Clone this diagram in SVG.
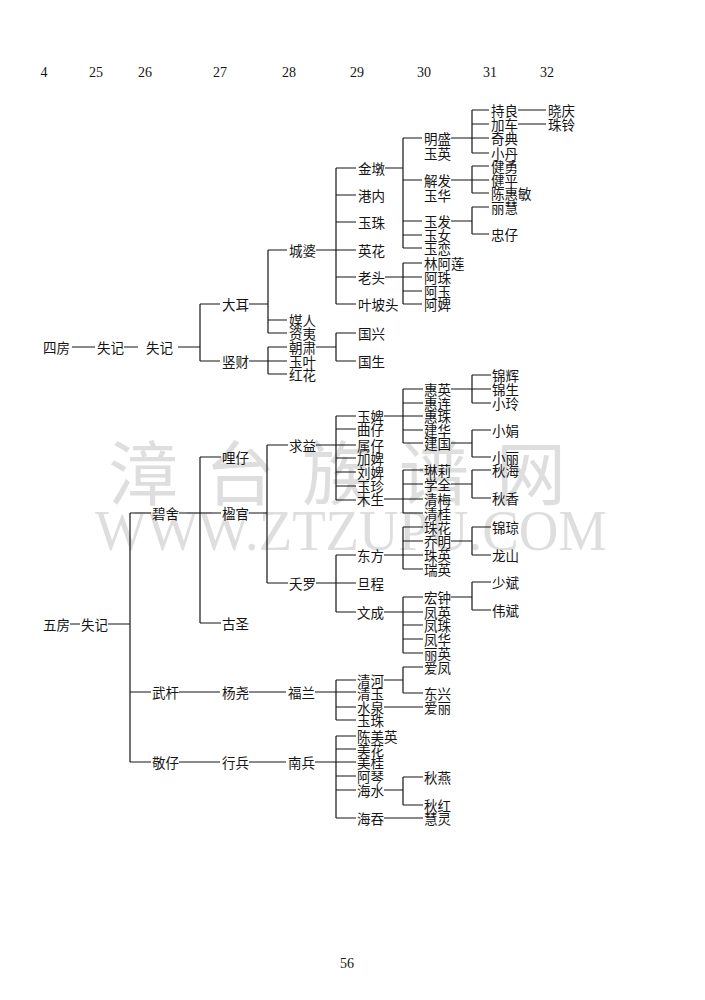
<svg xmlns="http://www.w3.org/2000/svg" width="705" height="1000" viewBox="0 0 705 1000">
<style>
.t{font-family:"Noto Sans CJK SC","Noto Sans CJK TC",sans-serif;font-size:13.5px;fill:#151515;dominant-baseline:central}
.n{font-family:"Liberation Serif",serif;font-size:14px;fill:#151515;text-anchor:middle;dominant-baseline:central}
.c{stroke:#151515;stroke-width:1.2;fill:none}
.w{font-family:"Noto Sans CJK SC",sans-serif;font-size:70px;fill:#d4d4d4;opacity:0.75}
.wu{font-family:"Liberation Serif",serif;font-size:56px;fill:#d4d4d4;opacity:0.75}
</style>
<rect width="705" height="1000" fill="#ffffff"/>
<g id="watermark">
<text class="w" x="108" y="500" letter-spacing="27">漳台族谱网</text>
<text class="wu" x="95" y="550" textLength="512" lengthAdjust="spacingAndGlyphs">WWW.ZTZUPU.COM</text>
</g>
<g id="header">
<text class="n" x="44" y="72">4</text>
<text class="n" x="96" y="72">25</text>
<text class="n" x="145" y="72">26</text>
<text class="n" x="220" y="72">27</text>
<text class="n" x="289" y="72">28</text>
<text class="n" x="357" y="72">29</text>
<text class="n" x="424" y="72">30</text>
<text class="n" x="490" y="72">31</text>
<text class="n" x="547" y="72">32</text>
</g>
<g id="connectors">
<path class="c" d="M72 347H95 M124 347H138 M178 347H200 M200 304V361 M200 304H220 M200 361H220
M249 304H268 M268 250V333 M268 250H287 M268 320H287 M268 333H287
M249 361H287 M268 347V374 M268 347H287 M268 374H287
M316 347H336 M336 333V361 M336 333H356 M336 361H356
M316 250H356 M336 168V304 M336 168H356 M336 195H356 M336 222H356 M336 277H356 M336 304H356
M385 168H403 M403 138V248 M403 138H422 M403 180H422 M403 221H422 M403 235H422 M403 248H422
M451 138H489 M472 110V153 M472 110H489 M472 124H489 M472 153H489
M518 110H546 M518 124H546
M451 180H489 M472 166V193 M472 166H489 M472 193H489
M451 221H472 M472 207V234 M472 207H489 M472 234H489
M385 277H422 M403 263V304 M403 263H422 M403 291H422 M403 304H422"/>
<path class="c" d="M70 624H80 M108 624H130 M130 513V762 M130 513H151 M179 513H221 M200 457V623 M200 457H221 M200 623H221
M249 513H267 M267 445V583 M267 445H288 M267 583H288
M316 445H356 M336 416V500 M336 416H356 M336 429H356 M336 458H356 M336 472H356 M336 486H356 M336 500H356
M384 416H423 M403 389V443 M403 389H423 M403 403H423 M403 430H423 M403 443H423
M451 389H491 M472 375V403 M472 375H491 M472 403H491
M451 443H472 M472 430V457 M472 430H491 M472 457H491
M384 499H423 M403 470V513 M403 470H423 M403 484H423 M403 513H423
M451 484H472 M472 470V498 M472 470H491 M472 498H491
M316 583H356 M336 555V612 M336 555H356 M336 612H356
M384 555H423 M403 527V569 M403 527H423 M403 541H423 M403 569H423
M451 541H472 M472 527V555 M472 527H491 M472 555H491
M384 612H423 M403 597V653 M403 597H423 M403 625H423 M403 639H423 M403 653H423
M451 597H472 M472 582V610 M472 582H491 M472 610H491
M130 692H151 M179 692H220 M249 692H286 M315 692H356 M336 680V720 M336 680H356 M336 707H356 M336 720H356
M384 680H403 M403 667V693 M403 667H423 M403 693H423
M384 707H423
M130 762H151 M179 762H220 M249 762H286 M315 762H356 M336 736V818 M336 736H356 M336 749H356 M336 776H356 M336 790H356 M336 818H356
M384 790H403 M403 777V805 M403 777H423 M403 805H423
M384 818H423"/>
</g>
<g id="n001"><text class="t" x="43" y="347">四房</text></g>
<g id="n002"><text class="t" x="97" y="347">失记</text></g>
<g id="n003"><text class="t" x="146" y="347">失记</text></g>
<g id="n004"><text class="t" x="222" y="304">大耳</text></g>
<g id="n005"><text class="t" x="222" y="361">竖财</text></g>
<g id="n006"><text class="t" x="289" y="250">城婆</text></g>
<g id="n007"><text class="t" x="289" y="320">媒人</text></g>
<g id="n008"><text class="t" x="289" y="333">资夷</text></g>
<g id="n009"><text class="t" x="289" y="347">朝肃</text></g>
<g id="n010"><text class="t" x="289" y="361">玉叶</text></g>
<g id="n011"><text class="t" x="289" y="374">红花</text></g>
<g id="n012"><text class="t" x="358" y="333">国兴</text></g>
<g id="n013"><text class="t" x="358" y="361">国生</text></g>
<g id="n014"><text class="t" x="358" y="168">金墩</text></g>
<g id="n015"><text class="t" x="358" y="195">港内</text></g>
<g id="n016"><text class="t" x="358" y="222">玉珠</text></g>
<g id="n017"><text class="t" x="358" y="250">英花</text></g>
<g id="n018"><text class="t" x="358" y="277">老头</text></g>
<g id="n019"><text class="t" x="358" y="304">叶坡头</text></g>
<g id="n020"><text class="t" x="424" y="138">明盛</text><text class="t" x="424" y="153">玉英</text></g>
<g id="n021"><text class="t" x="424" y="180">解发</text><text class="t" x="424" y="195">玉华</text></g>
<g id="n022"><text class="t" x="424" y="221">玉发</text></g>
<g id="n023"><text class="t" x="424" y="235">玉女</text></g>
<g id="n024"><text class="t" x="424" y="248">玉恋</text></g>
<g id="n025"><text class="t" x="491" y="110">持良</text></g>
<g id="n026"><text class="t" x="491" y="124">加车</text></g>
<g id="n027"><text class="t" x="491" y="138">奇典</text></g>
<g id="n028"><text class="t" x="491" y="153">小丹</text></g>
<g id="n029"><text class="t" x="548" y="110">晓庆</text></g>
<g id="n030"><text class="t" x="548" y="124">珠铃</text></g>
<g id="n031"><text class="t" x="491" y="166">健勇</text></g>
<g id="n032"><text class="t" x="491" y="180">健平</text></g>
<g id="n033"><text class="t" x="491" y="193">陈惠敏</text></g>
<g id="n034"><text class="t" x="491" y="207">丽慧</text></g>
<g id="n035"><text class="t" x="491" y="234">忠仔</text></g>
<g id="n036"><text class="t" x="424" y="263">林阿莲</text></g>
<g id="n037"><text class="t" x="424" y="277">阿珠</text></g>
<g id="n038"><text class="t" x="424" y="291">阿玉</text></g>
<g id="n039"><text class="t" x="424" y="304">阿婢</text></g>
<g id="n040"><text class="t" x="43" y="624">五房</text></g>
<g id="n041"><text class="t" x="81" y="624">失记</text></g>
<g id="n042"><text class="t" x="152" y="513">碧舍</text></g>
<g id="n043"><text class="t" x="222" y="457">哩仔</text></g>
<g id="n044"><text class="t" x="222" y="513">楹官</text></g>
<g id="n045"><text class="t" x="222" y="623">古圣</text></g>
<g id="n046"><text class="t" x="289" y="445">求益</text></g>
<g id="n047"><text class="t" x="289" y="583">夭罗</text></g>
<g id="n048"><text class="t" x="357" y="416">玉婢</text></g>
<g id="n049"><text class="t" x="357" y="429">曲仔</text></g>
<g id="n050"><text class="t" x="357" y="445">属仔</text></g>
<g id="n051"><text class="t" x="357" y="458">加婢</text></g>
<g id="n052"><text class="t" x="357" y="472">刘婢</text></g>
<g id="n053"><text class="t" x="357" y="486">玉珍</text></g>
<g id="n054"><text class="t" x="357" y="499">木生</text></g>
<g id="n055"><text class="t" x="424" y="389">惠英</text></g>
<g id="n056"><text class="t" x="424" y="403">惠连</text></g>
<g id="n057"><text class="t" x="424" y="416">惠珠</text></g>
<g id="n058"><text class="t" x="424" y="430">建华</text></g>
<g id="n059"><text class="t" x="424" y="443">建国</text></g>
<g id="n060"><text class="t" x="492" y="375">锦辉</text></g>
<g id="n061"><text class="t" x="492" y="389">锦生</text></g>
<g id="n062"><text class="t" x="492" y="403">小玲</text></g>
<g id="n063"><text class="t" x="492" y="430">小娟</text></g>
<g id="n064"><text class="t" x="492" y="457">小丽</text></g>
<g id="n065"><text class="t" x="424" y="470">琳莉</text></g>
<g id="n066"><text class="t" x="424" y="484">学全</text></g>
<g id="n067"><text class="t" x="424" y="499">清梅</text></g>
<g id="n068"><text class="t" x="424" y="513">清桂</text></g>
<g id="n069"><text class="t" x="492" y="470">秋海</text></g>
<g id="n070"><text class="t" x="492" y="498">秋香</text></g>
<g id="n071"><text class="t" x="357" y="555">东方</text></g>
<g id="n072"><text class="t" x="357" y="583">旦程</text></g>
<g id="n073"><text class="t" x="357" y="612">文成</text></g>
<g id="n074"><text class="t" x="424" y="527">珠花</text></g>
<g id="n075"><text class="t" x="424" y="541">乔明</text></g>
<g id="n076"><text class="t" x="424" y="555">珠英</text></g>
<g id="n077"><text class="t" x="424" y="569">瑞英</text></g>
<g id="n078"><text class="t" x="492" y="527">锦琼</text></g>
<g id="n079"><text class="t" x="492" y="555">龙山</text></g>
<g id="n080"><text class="t" x="424" y="597">宏钟</text></g>
<g id="n081"><text class="t" x="424" y="612">凤英</text></g>
<g id="n082"><text class="t" x="424" y="625">凤珠</text></g>
<g id="n083"><text class="t" x="424" y="639">凤华</text></g>
<g id="n084"><text class="t" x="424" y="653">丽英</text></g>
<g id="n085"><text class="t" x="492" y="582">少斌</text></g>
<g id="n086"><text class="t" x="492" y="610">伟斌</text></g>
<g id="n087"><text class="t" x="152" y="692">武杆</text></g>
<g id="n088"><text class="t" x="222" y="692">杨尧</text></g>
<g id="n089"><text class="t" x="288" y="692">福兰</text></g>
<g id="n090"><text class="t" x="357" y="680">清河</text></g>
<g id="n091"><text class="t" x="357" y="693">清玉</text></g>
<g id="n092"><text class="t" x="357" y="707">水泉</text></g>
<g id="n093"><text class="t" x="357" y="720">玉珠</text></g>
<g id="n094"><text class="t" x="424" y="667">爱凤</text></g>
<g id="n095"><text class="t" x="424" y="693">东兴</text></g>
<g id="n096"><text class="t" x="424" y="707">爱丽</text></g>
<g id="n097"><text class="t" x="152" y="762">敬仔</text></g>
<g id="n098"><text class="t" x="222" y="762">行兵</text></g>
<g id="n099"><text class="t" x="288" y="762">南兵</text></g>
<g id="n100"><text class="t" x="357" y="736">陈美英</text></g>
<g id="n101"><text class="t" x="357" y="749">美花</text></g>
<g id="n102"><text class="t" x="357" y="762">美桂</text></g>
<g id="n103"><text class="t" x="357" y="776">阿琴</text></g>
<g id="n104"><text class="t" x="357" y="790">海水</text></g>
<g id="n105"><text class="t" x="357" y="818">海吞</text></g>
<g id="n106"><text class="t" x="424" y="777">秋燕</text></g>
<g id="n107"><text class="t" x="424" y="805">秋红</text></g>
<g id="n108"><text class="t" x="424" y="818">慧灵</text></g>
<g id="pageno"><text class="n" x="347" y="963">56</text></g>
</svg>
